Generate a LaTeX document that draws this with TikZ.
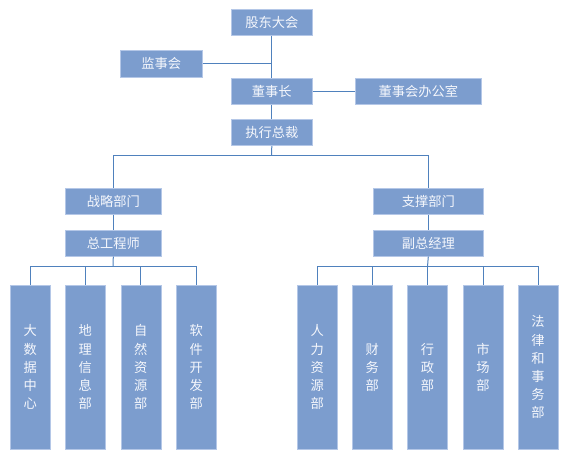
\documentclass[tikz,border=0pt]{standalone}
\usepackage{fontspec}
\setmainfont{Noto Sans CJK SC}
\definecolor{boxfill}{RGB}{124,157,206}
\definecolor{boxline}{RGB}{180,199,231}
\definecolor{linkc}{RGB}{79,129,189}
\definecolor{txt}{RGB}{245,247,252}
\tikzset{
  box/.style={draw=boxline, line width=0.6pt, fill=boxfill, text=txt, inner sep=0pt, anchor=north west, font=\fontsize{13.3}{18.3}\selectfont},
  link/.style={draw=linkc, line width=1pt},
}
\begin{document}
\begin{tikzpicture}[x=1bp,y=-1bp]
\useasboundingbox (0,0) rectangle (566,463);
% top chain
\node[box, minimum width=81bp, minimum height=26bp] (gd) at (231,9) {股东大会};
\node[box, minimum width=82bp, minimum height=27bp] (js) at (120,50) {监事会};
\node[box, minimum width=81bp, minimum height=26bp] (dsz) at (231,78) {董事长};
\node[box, minimum width=126bp, minimum height=26bp] (bgs) at (355,78) {董事会办公室};
\node[box, minimum width=81bp, minimum height=26bp] (zc) at (231,119.5) {执行总裁};
% departments
\node[box, minimum width=96bp, minimum height=26bp] (zl) at (65,188) {战略部门};
\node[box, minimum width=96bp, minimum height=26bp] (zgc) at (65,230) {总工程师};
\node[box, minimum width=110bp, minimum height=26bp] (zcb) at (373,188) {支撑部门};
\node[box, minimum width=110bp, minimum height=26bp] (fz) at (373,230) {副总经理};
% leaves
\tikzset{leaf/.style={box, minimum width=40bp, minimum height=164bp, align=center}}
\node[leaf] (l1) at (10,285) {大\\数\\据\\中\\心};
\node[leaf] (l2) at (65,285) {地\\理\\信\\息\\部};
\node[leaf] (l3) at (120.5,285) {自\\然\\资\\源\\部};
\node[leaf] (l4) at (176,285) {软\\件\\开\\发\\部};
\node[leaf] (r1) at (297,285) {人\\力\\资\\源\\部};
\node[leaf] (r2) at (352,285) {财\\务\\部};
\node[leaf] (r3) at (407.3,285) {行\\政\\部};
\node[leaf] (r4) at (462.7,285) {市\\场\\部};
\node[leaf] (r5) at (517.7,285) {法\\律\\和\\事\\务\\部};
% connectors
\draw[link] (gd.south) -- (dsz.north);
\draw[link] (js.east) -- (js.east -| gd.south);
\draw[link] (dsz.east) -- (bgs.west);
\draw[link] (dsz.south) -- (zc.north);
\coordinate (split) at (271.5,155.5);
\draw[link] (zc.south) -- (split);
\draw[link] (split) -| (zl.north);
\draw[link] (split) -| (zcb.north);
\draw[link] (zl.south) -- (zgc.north);
\draw[link] (zcb.south) -- (fz.north);
\coordinate (lb) at (113,266.7);
\coordinate (rb) at (427.5,266.7);
\draw[link] (zgc.south) -- (lb);
\draw[link] (fz.south) -- (rb);
\foreach \n in {l1,l2,l3,l4} \draw[link] (lb) -| (\n.north);
\foreach \n in {r1,r2,r3,r4,r5} \draw[link] (rb) -| (\n.north);
\end{tikzpicture}
\end{document}
